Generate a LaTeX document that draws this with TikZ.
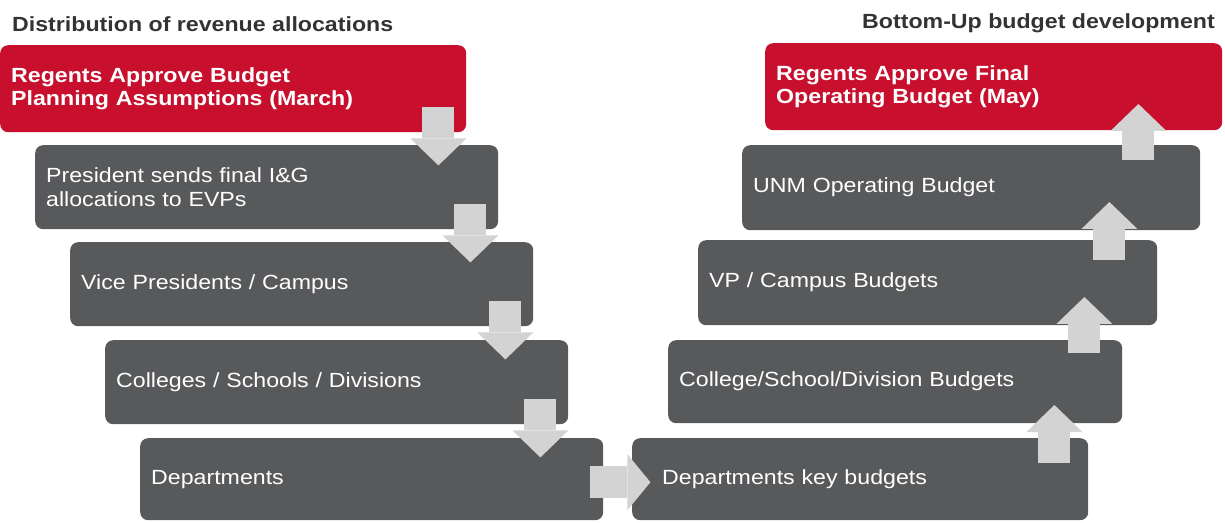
\documentclass[tikz,border=0pt]{standalone}
\usepackage{fontspec}
\setmainfont{Liberation Sans}[FakeStretch=1.13]
\usetikzlibrary{arrows.meta}
\definecolor{unmred}{HTML}{C8102E}
\definecolor{stagegray}{HTML}{58595B}
\definecolor{flowgray}{HTML}{D3D3D3}
\definecolor{titlegray}{HTML}{333333}
\begin{document}
\begin{tikzpicture}[x=1pt,y=1pt,
  every node/.style={font=\fontsize{20.5}{23.5}\selectfont},
  stage/.style={fill=stagegray,text=white,rounded corners=8pt,anchor=north west,
    minimum width=463pt,minimum height=84pt,text width=441pt,inner xsep=11pt,align=left},
  regents/.style={stage,fill=unmred,minimum height=87pt,font=\fontsize{20.5}{23.5}\selectfont\bfseries},
  heading/.style={text=titlegray,inner sep=0pt,font=\fontsize{20.5}{23.5}\selectfont\bfseries},
  flow/.style={draw=flowgray,line width=32pt,-{Triangle[width=56pt,length=27pt,line width=0pt]}}]
\useasboundingbox (0,0) rectangle (1225,522);
\node[heading,anchor=base west] (titleL) at (12,490) {Distribution of revenue allocations};
\node[heading,anchor=base east] (titleR) at (1215,493) {Bottom-Up budget development};
\node[regents,minimum width=466pt,text width=444pt] (reg1) at (0,477) {Regents Approve Budget\\Planning Assumptions (March)};
\node[stage] (pres) at (35,377) {President sends final I\&G\\allocations to EVPs};
\node[stage] (vp) at (70,280) {Vice Presidents / Campus};
\node[stage] (col) at (105,182) {Colleges / Schools / Divisions};
\node[stage,minimum height=82pt] (dept) at (140,84) {Departments};
\node[regents,minimum width=457pt,text width=435pt] (reg2) at (765,479) {Regents Approve Final\\Operating Budget (May)};
\node[stage,minimum width=458pt,text width=436pt,minimum height=85pt] (unm) at (742,377) {UNM Operating Budget};
\node[stage,minimum width=459pt,text width=437pt,minimum height=85pt] (vpb) at (698,282) {VP / Campus Budgets};
\node[stage,minimum width=454pt,text width=432pt,minimum height=83pt] (colb) at (668,182) {College/School/Division Budgets};
\node[stage,minimum width=456pt,text width=434pt,minimum height=82pt] (deptb) at (632,84) {\hspace*{19pt}Departments key budgets};
\draw[flow] ([xshift=-28,yshift=25]reg1.south east) -- ++(0,-58);
\draw[flow] ([xshift=-28,yshift=25]pres.south east) -- ++(0,-58);
\draw[flow] ([xshift=-28,yshift=25]vp.south east) -- ++(0,-58);
\draw[flow] ([xshift=-28,yshift=25]col.south east) -- ++(0,-58);
\draw[flow,-{Triangle[width=56pt,length=23pt,line width=0pt]}] ([xshift=-13,yshift=-3]dept.east) -- ++(60,0);
\draw[flow] ([xshift=-34,yshift=-25]deptb.north east) -- ++(0,58);
\draw[flow] ([xshift=-38,yshift=-13]colb.north east) -- ++(0,56);
\draw[flow] ([xshift=-48,yshift=-20]vpb.north east) -- ++(0,58);
\draw[flow] ([xshift=-62,yshift=-15]unm.north east) -- ++(0,56);
\end{tikzpicture}
\end{document}
